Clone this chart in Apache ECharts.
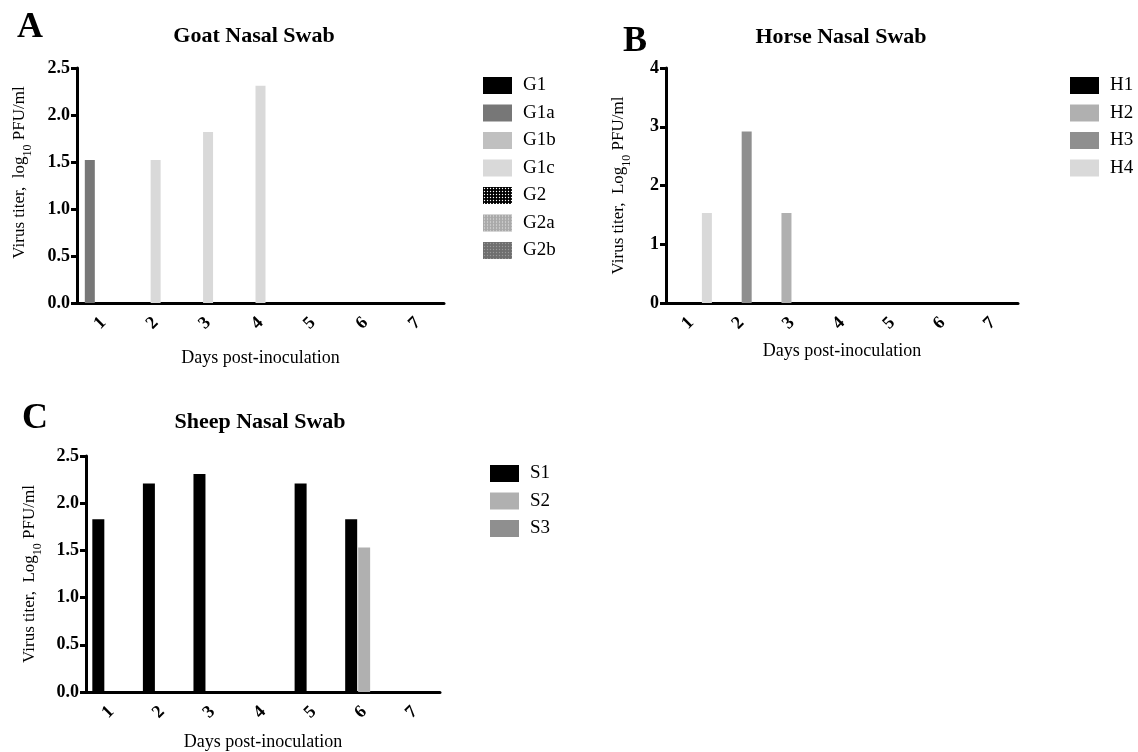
<!DOCTYPE html>
<html>
<head>
<meta charset="utf-8">
<script src="https://cdn.jsdelivr.net/npm/echarts@6/dist/echarts.min.js"></script>
<style>
html,body{margin:0;padding:0;background:#fff;}
#main{width:1138px;height:752px;}
</style>
</head>
<body>
<div id="main"></div>
<script>
// ---- Data ----
const days = ['1', '2', '3', '4', '5', '6', '7'];

const goatNames = ['G1', 'G1a', 'G1b', 'G1c', 'G2', 'G2a', 'G2b'];
const goatG1  = [0, 0, 0, 0, 0, 0, 0];
const goatG1a = [1.52, 0, 0, 0, 0, 0, 0];
const goatG1b = [0, 0, 0, 0, 0, 0, 0];
const goatG1c = [0, 1.52, 1.82, 2.31, 0, 0, 0];
const goatG2  = [0, 0, 0, 0, 0, 0, 0];
const goatG2a = [0, 0, 0, 0, 0, 0, 0];
const goatG2b = [0, 0, 0, 0, 0, 0, 0];

const horseNames = ['H1', 'H2', 'H3', 'H4'];
const horseH1 = [0, 0, 0, 0, 0, 0, 0];
const horseH2 = [0, 0, 1.53, 0, 0, 0, 0];
const horseH3 = [0, 2.92, 0, 0, 0, 0, 0];
const horseH4 = [1.53, 0, 0, 0, 0, 0, 0];

const sheepNames = ['S1', 'S2', 'S3'];
const sheepS1 = [1.83, 2.21, 2.31, 0, 2.21, 1.83, 0];
const sheepS2 = [0, 0, 0, 0, 0, 1.53, 0];
const sheepS3 = [0, 0, 0, 0, 0, 0, 0];

const goatTicks = [0, 2.5, 0.5];
const horseTicks = [0, 4, 1];
const sheepTicks = [0, 2.5, 0.5];

// ---- Styles ----
const FONT = 'Liberation Serif';
const goatColors = ['#000000', '#777777', '#c0c0c0', '#d9d9d9', '#000000', '#a9a9a9', '#6e6e6e'];
const goatDecals = [null, null, null, null,
  {symbol: 'circle', symbolSize: 0.45, color: '#ffffff', dashArrayX: [3, 0], dashArrayY: [3, 0]},
  {symbol: 'circle', symbolSize: 0.45, color: '#e0e0e0', dashArrayX: [3, 0], dashArrayY: [3, 0]},
  {symbol: 'circle', symbolSize: 0.45, color: '#9a9a9a', dashArrayX: [3, 0], dashArrayY: [3, 0]}];
const horseColors = ['#000000', '#b0b0b0', '#8f8f8f', '#d9d9d9'];
const sheepColors = ['#000000', '#b0b0b0', '#8f8f8f'];

function yName(log) {
  return '{a|Virus titer,  ' + log + '}{s|10}{a| PFU/ml}';
}
function yNameStyle(shift) {
  return {
    fontFamily: FONT, fontSize: 17, color: '#000',
    padding: [0, 0, 0, shift],
    rich: {
      a: {fontFamily: FONT, fontSize: 17, color: '#000', verticalAlign: 'top', lineHeight: 23},
      s: {fontFamily: FONT, fontSize: 12, color: '#000', verticalAlign: 'bottom', lineHeight: 23}
    }
  };
}

function xAxis(gi, gap) {
  return {
    type: 'category', gridIndex: gi, data: days,
    name: 'Days post-inoculation', nameLocation: 'middle', nameGap: gap,
    nameTextStyle: {fontFamily: FONT, fontSize: 18, color: '#000'},
    axisLine: {lineStyle: {color: '#000', width: 3}},
    axisTick: {alignWithLabel: true, length: 6, lineStyle: {color: '#000', width: 3}},
    axisLabel: {rotate: 45, margin: 17, fontFamily: FONT, fontWeight: 'bold', fontSize: 18, color: '#000'}
  };
}
function yAxis(gi, ticks, log, gap, dec, shift) {
  return {
    type: 'value', gridIndex: gi, min: ticks[0], max: ticks[1], interval: ticks[2],
    name: yName(log), nameLocation: 'middle', nameGap: gap, nameTextStyle: yNameStyle(shift),
    splitLine: {show: false},
    axisLine: {show: true, lineStyle: {color: '#000', width: 3}},
    axisTick: {show: true, length: 6, lineStyle: {color: '#000', width: 3}},
    axisLabel: {margin: 7, fontFamily: FONT, fontWeight: 'bold', fontSize: 18, color: '#000',
      formatter: v => v.toFixed(dec)}
  };
}

const series = [];
const goatData = [goatG1, goatG1a, goatG1b, goatG1c, goatG2, goatG2a, goatG2b];
goatNames.forEach((n, i) => {
  const st = {color: goatColors[i]};
  if (goatDecals[i]) st.decal = goatDecals[i];
  series.push({
    type: 'bar', name: n, xAxisIndex: 0, yAxisIndex: 0, data: goatData[i],
    barWidth: 10, barGap: '-33%', itemStyle: st
  });
});
const horseData = [horseH1, horseH2, horseH3, horseH4];
horseNames.forEach((n, i) => series.push({
  type: 'bar', name: n, xAxisIndex: 1, yAxisIndex: 1, data: horseData[i],
  barWidth: 10, barGap: '5%',
  itemStyle: {color: horseColors[i]}
}));
const sheepData = [sheepS1, sheepS2, sheepS3];
sheepNames.forEach((n, i) => series.push({
  type: 'bar', name: n, xAxisIndex: 2, yAxisIndex: 2, data: sheepData[i],
  barWidth: 12, barGap: '8%',
  itemStyle: {color: sheepColors[i]}
}));

function legend(names, left, top) {
  return {
    data: names, left: left, top: top, orient: 'vertical', selectedMode: false,
    icon: 'rect', itemWidth: 29, itemHeight: 17, itemGap: 8.5,
    textStyle: {fontFamily: FONT, fontSize: 19, lineHeight: 17, color: '#000', padding: [0, 0, 0, 6]}
  };
}
function panelTitle(text, x, y, size, center) {
  const t = {text: text, left: x, top: y,
    textStyle: {fontFamily: FONT, fontWeight: 'bold', fontSize: size, color: '#000'}};
  if (center) t.textAlign = 'center';
  return t;
}

const chart = echarts.init(document.getElementById('main'), null, {renderer: 'canvas'});
chart.setOption({
  animation: false,
  backgroundColor: '#fff',
  title: [
    panelTitle('A', 12, 5, 36, false),
    panelTitle('Goat Nasal Swab', 249, 20, 22, true),
    panelTitle('B', 618, 19, 36, false),
    panelTitle('Horse Nasal Swab', 836, 21, 22, true),
    panelTitle('C', 17, 396, 36, false),
    panelTitle('Sheep Nasal Swab', 255, 406, 22, true)
  ],
  legend: [
    legend(goatNames, 478, 71),
    legend(horseNames, 1065, 71),
    legend(sheepNames, 485, 459)
  ],
  grid: [
    {left: 77, top: 68, width: 367, height: 235},
    {left: 666, top: 68, width: 352, height: 235},
    {left: 86, top: 456, width: 354, height: 236}
  ],
  xAxis: [xAxis(0, 46), xAxis(1, 39), xAxis(2, 41)],
  yAxis: [
    yAxis(0, goatTicks, 'log', 43, 1, 26),
    yAxis(1, horseTicks, 'Log', 33, 0, 0),
    yAxis(2, sheepTicks, 'Log', 42, 1, 0)
  ],
  series: series
});
</script>
</body>
</html>
